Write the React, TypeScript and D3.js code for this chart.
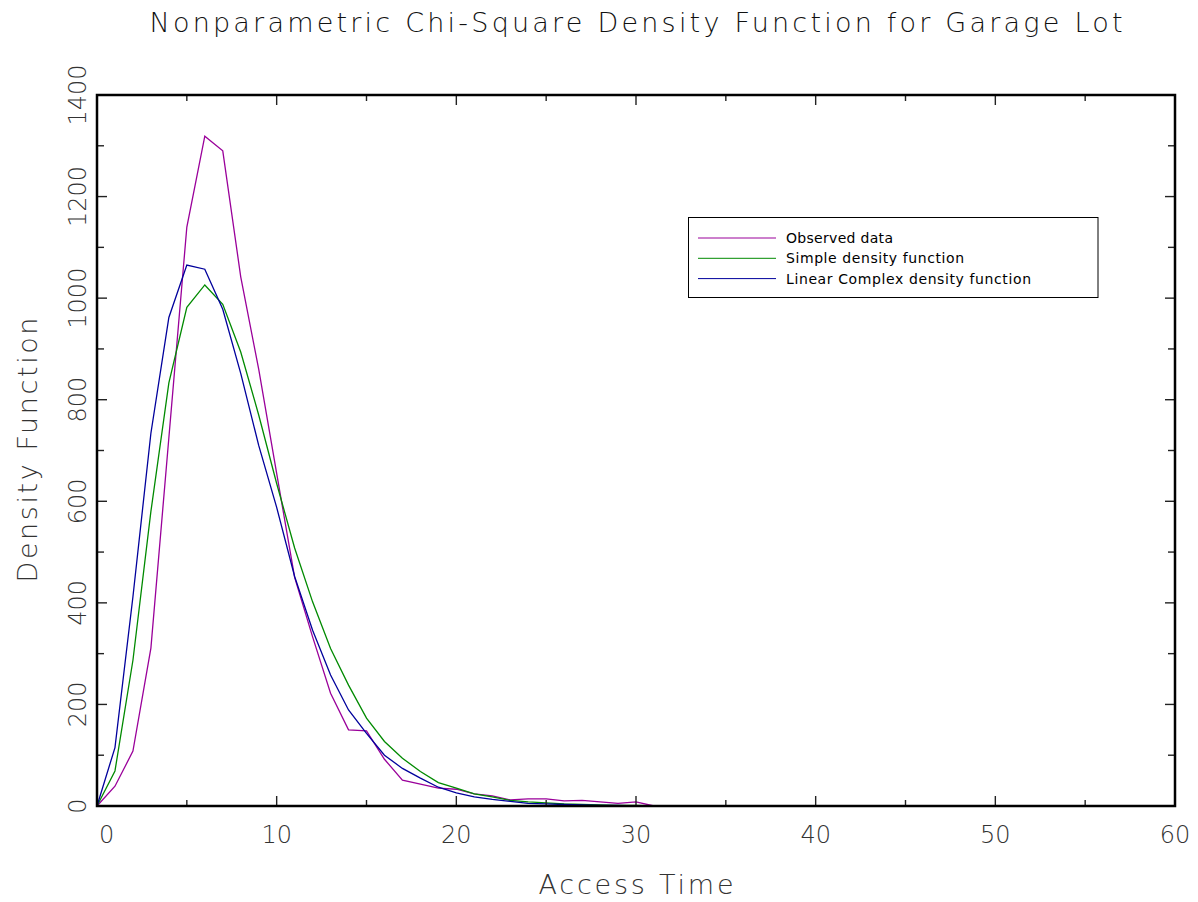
import React from 'react';
import * as d3 from 'd3';

// access time (integer bins 0..60)
const accessTime = d3.range(0, 61);

const observed = [
  0, 39, 108, 311, 725, 1140, 1319, 1290, 1042, 860,
  655, 450, 333, 222, 150, 148, 92, 51, 43, 35,
  33, 24, 20, 12, 14, 14, 10, 11, 8, 5,
  8, 0, 0, 0, 0, 0, 0, 0, 0, 0,
  0, 0, 0, 0, 0, 0, 0, 0, 0, 0,
  0, 0, 0, 0, 0, 0, 0, 0, 0, 0, 0,
];

const simpleDensity = [
  0, 69, 287, 580, 833, 982, 1026, 988, 894, 770,
  635, 508, 402, 310, 238, 173, 127, 94, 68, 46,
  35, 24, 18, 11, 8, 6, 4, 3, 2, 1,
  1, 0, 0, 0, 0, 0, 0, 0, 0, 0,
  0, 0, 0, 0, 0, 0, 0, 0, 0, 0,
  0, 0, 0, 0, 0, 0, 0, 0, 0, 0, 0,
];

const linearComplex = [
  0, 115, 412, 734, 962, 1065, 1057, 978, 852, 710,
  588, 452, 346, 258, 189, 143, 100, 74, 55, 37,
  26, 18, 13, 9, 5, 4, 3, 2, 1, 1,
  0, 0, 0, 0, 0, 0, 0, 0, 0, 0,
  0, 0, 0, 0, 0, 0, 0, 0, 0, 0,
  0, 0, 0, 0, 0, 0, 0, 0, 0, 0, 0,
];

const xTickLabels = [0, 10, 20, 30, 40, 50, 60];
const yTickLabels = [0, 200, 400, 600, 800, 1000, 1200, 1400];

const series = [
  { name: 'Observed data', values: observed, color: '#9a009a', labelWidth: 107 },
  { name: 'Simple density function', values: simpleDensity, color: '#008a00', labelWidth: 178 },
  { name: 'Linear Complex density function', values: linearComplex, color: '#00009c', labelWidth: 245 },
];

const W = 1198;
const H = 902;
const font = '"DejaVu Sans", sans-serif';

export default function App() {
  const x = d3.scaleLinear().domain([0, 60]).range([97, 1175]);
  const y = d3.scaleLinear().domain([0, 1400]).range([806, 95]);
  const [x0, x1] = x.range();
  const [y0, y1] = y.range();

  const line = (vals: number[]) =>
    d3.line<number>()
      .x((_, i) => x(accessTime[i]))
      .y(d => y(d))(vals) || '';

  const xMinor = d3.range(0, 61, 5);
  const yMinor = d3.range(0, 1401, 100);

  return (
    <svg width={W} height={H} style={{ position: 'absolute', left: 0, top: 0, background: '#fff' }}
      fontFamily={font}>
      <rect width={W} height={H} fill="#fff" />

      {/* title */}
      <text x={636} y={32} textAnchor="middle" fontSize={27} fontWeight={200} fill="#111"
        textLength={973} lengthAdjust="spacing">
        Nonparametric Chi-Square Density Function for Garage Lot
      </text>

      {/* series */}
      <g clipPath="url(#plotclip)">
        {series.map(s => (
          <path key={s.name} d={line(s.values)} fill="none" stroke={s.color} strokeWidth={1.3} />
        ))}
      </g>
      <defs>
        <clipPath id="plotclip">
          <rect x={x0 - 2} y={y1} width={x1 - x0 + 4} height={y0 - y1 + 2} />
        </clipPath>
      </defs>

      {/* ticks inside the frame */}
      <g stroke="#222" strokeWidth={1.4}>
        {xMinor.map(v => {
          const len = v % 10 === 0 ? 10 : 6;
          return (
            <g key={'xt' + v}>
              <line x1={x(v)} x2={x(v)} y1={y0} y2={y0 - len} />
              <line x1={x(v)} x2={x(v)} y1={y1} y2={y1 + len} />
            </g>
          );
        })}
        {yMinor.map(v => {
          const len = v % 200 === 0 ? 10 : 7;
          return (
            <g key={'yt' + v}>
              <line x1={x0} x2={x0 + len} y1={y(v)} y2={y(v)} />
              <line x1={x1} x2={x1 - len} y1={y(v)} y2={y(v)} />
            </g>
          );
        })}
      </g>

      {/* frame */}
      <rect x={x0} y={y1} width={x1 - x0} height={y0 - y1} fill="none" stroke="#000" strokeWidth={2.5} />

      {/* x tick labels */}
      {xTickLabels.map((v, i) => (
        <text key={'xl' + v} x={i === 0 ? x(v) + 2 : x(v)} y={843}
          textAnchor={i === 0 ? 'start' : 'middle'} fontSize={24} fontWeight={200} fill="#333">
          {v}
        </text>
      ))}

      {/* y tick labels */}
      {yTickLabels.map(v => (
        <text key={'yl' + v} transform={`translate(86,${y(v)}) rotate(-90)`}
          textAnchor="middle" fontSize={24} fontWeight={200} fill="#333">
          {v}
        </text>
      ))}

      {/* axis titles */}
      <text x={636} y={894} textAnchor="middle" fontSize={27} fontWeight={200} fill="#333"
        textLength={195} lengthAdjust="spacing">
        Access Time
      </text>
      <text transform={`translate(37,450) rotate(-90)`} textAnchor="middle" fontSize={27}
        fontWeight={200} fill="#333" textLength={265} lengthAdjust="spacing">
        Density Function
      </text>

      {/* legend */}
      <g>
        <rect x={688.5} y={217.5} width={409.5} height={80} fill="#fff" stroke="#000" strokeWidth={1} />
        {series.map((s, i) => (
          <g key={'lg' + s.name}>
            <line x1={698} x2={776} y1={238 + i * 20.3} y2={238 + i * 20.3} stroke={s.color} strokeWidth={1} />
            <text x={786} y={243 + i * 20.3} fontSize={14} fill="#000"
              textLength={s.labelWidth} lengthAdjust="spacing">{s.name}</text>
          </g>
        ))}
      </g>
    </svg>
  );
}
